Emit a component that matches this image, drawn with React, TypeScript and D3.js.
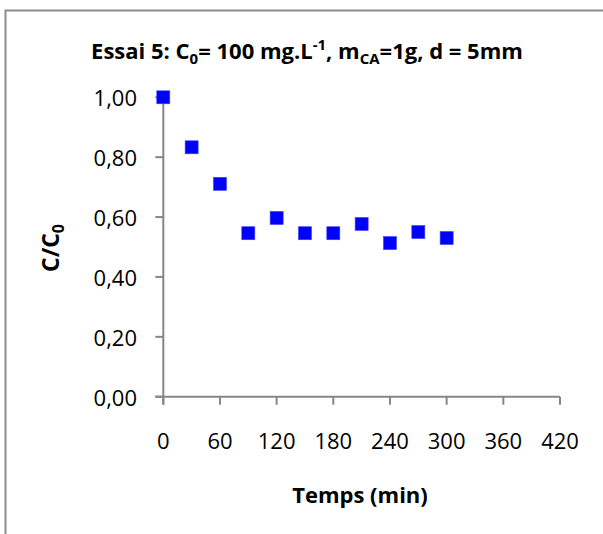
import React from "react";
import * as d3 from "d3";

// Temps (min) and relative concentration C/C0
const times = [0, 30, 60, 90, 120, 150, 180, 210, 240, 270, 300];
const ratios = [1.0, 0.833, 0.711, 0.546, 0.597, 0.546, 0.546, 0.577, 0.513, 0.55, 0.53];
const xTicks = [0, 60, 120, 180, 240, 300, 360, 420];
const yTicks = [0, 0.2, 0.4, 0.6, 0.8, 1.0];

const W = 603;
const H = 534;
const FONT = "'Open Sans', 'Liberation Sans', sans-serif";
const AXIS = "#868686";

export default function App() {
  const x = d3.scaleLinear().domain([0, 420]).range([163.3, 560]);
  const y = d3.scaleLinear().domain([0, 1]).range([396.7, 97.3]);
  const fmt = (v: number) => v.toFixed(2).replace(".", ",");
  const ms = 13;

  return (
    <svg
      width={W}
      height={H}
      style={{ position: "absolute", left: 0, top: 0, background: "#fff" }}
    >
      {/* chart area frame */}
      <rect x={5.5} y={10.5} width={W + 20} height={H + 20} fill="#fff" stroke="#8c8c8c" strokeWidth={2} />

      {/* title */}
      <text x={307} y={59} textAnchor="middle" fontFamily={FONT} fontWeight="bold" fontSize={22}>
        <tspan>Essai 5: C</tspan>
        <tspan fontSize={15} dy={5}>0</tspan>
        <tspan dy={-5}>= 100 mg.L</tspan>
        <tspan fontSize={15} dy={-9}>-1</tspan>
        <tspan dy={9}>, m</tspan>
        <tspan fontSize={15} dy={5}>CA</tspan>
        <tspan dy={-5}>=1g, d = 5mm</tspan>
      </text>

      {/* y axis */}
      <line x1={x(0)} x2={x(0)} y1={y(1)} y2={y(0) + 8} stroke={AXIS} strokeWidth={2} />
      {yTicks.map((t) => (
        <g key={"y" + t}>
          <line x1={x(0) - 8} x2={x(0)} y1={y(t)} y2={y(t)} stroke={AXIS} strokeWidth={2} />
          <text
            x={137}
            y={y(t)}
            textAnchor="end"
            dominantBaseline="central"
            fontFamily={FONT}
            fontSize={22}
            fill="#000"
          >
            {fmt(t)}
          </text>
        </g>
      ))}

      {/* x axis */}
      <line x1={x(0) - 8} x2={x(420)} y1={y(0)} y2={y(0)} stroke={AXIS} strokeWidth={2} />
      {xTicks.map((t) => (
        <g key={"x" + t}>
          <line x1={x(t)} x2={x(t)} y1={y(0)} y2={y(0) + 8} stroke={AXIS} strokeWidth={2} />
          <text
            x={x(t)}
            y={440}
            textAnchor="middle"
            dominantBaseline="central"
            fontFamily={FONT}
            fontSize={22}
            fill="#000"
          >
            {t}
          </text>
        </g>
      ))}

      {/* axis titles */}
      <text x={360} y={503} textAnchor="middle" fontFamily={FONT} fontWeight="bold" fontSize={22}>
        Temps (min)
      </text>
      <text
        transform="translate(59,248) rotate(-90)"
        textAnchor="middle"
        fontFamily={FONT}
        fontWeight="bold"
        fontSize={23}
      >
        <tspan>C/C</tspan>
        <tspan fontSize={16} dy={5}>0</tspan>
      </text>

      {/* data markers */}
      {times.map((t, i) => (
        <rect
          key={t}
          x={x(t) - ms / 2}
          y={y(ratios[i]) - ms / 2}
          width={ms}
          height={ms}
          fill="#0000ff"
          stroke="#3c3cff"
          strokeWidth={0.6}
        />
      ))}
    </svg>
  );
}
